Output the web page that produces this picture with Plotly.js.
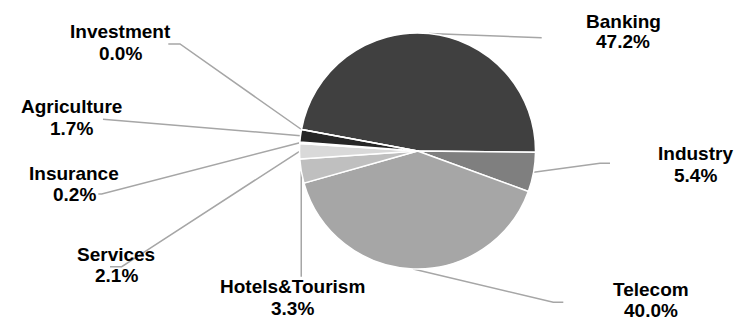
<!DOCTYPE html>
<html>
<head>
<meta charset="utf-8">
<script src="https://cdn.plot.ly/plotly-3.0.1.min.js"></script>
<style>html,body{margin:0;padding:0;background:#fff;}#chart{width:737px;height:320px;}</style>
</head>
<body>
<div id="chart"></div>
<script>
// ---- data ----
const categories = ['Banking', 'Industry', 'Telecom', 'Hotels&Tourism', 'Services', 'Insurance', 'Agriculture', 'Investment'];
const shares = [47.2, 5.4, 40.0, 3.3, 2.1, 0.2, 1.7, 0.0];
const sliceColors = ['#404040', '#7f7f7f', '#a6a6a6', '#bfbfbf', '#d9d9d9', '#f2f2f2', '#262626', '#000000'];

// ---- layout / style (pixels) ----
const W = 737, H = 320;
const CX = 417.5, CY = 151, R = 118;
const ROTATION = -79.5;
// label anchor: [x center, name line y, percent line y]
const labelPos = [
  [623, 21, 42],
  [695, 153.7, 175],
  [651, 289, 310],
  [292.5, 286.7, 308],
  [116, 254.5, 275.5],
  [74, 173.7, 194.7],
  [71, 106.7, 128],
  [120, 32, 53]
];
// leader line bend/end points (null x = same x as start)
const leaderPts = [
  [[541.7, 37.7]],
  [[600, 163.3], [610, 163.3]],
  [[553.3, 302.3], [563.3, 302.3]],
  [[null, 276.7]],
  [[121.7, 266.7], [110, 266.7]],
  [[101.7, 194], [98.3, 194]],
  [[103, 119.3]],
  [[180, 44], [168.3, 44]]
];

const px = x => x / W;
const py = y => 1 - y / H;

const total = shares.reduce((a, b) => a + b, 0);
let cum = 0;
const shapes = [];
const annotations = [];
categories.forEach((cat, i) => {
  const mid = ROTATION + (cum + shares[i] / 2) / total * 360;
  cum += shares[i];
  const a = mid * Math.PI / 180;
  const sx = CX + R * Math.sin(a), sy = CY - R * Math.cos(a);
  let path = 'M' + px(sx) + ',' + py(sy);
  leaderPts[i].forEach(p => {
    const x = p[0] === null ? sx : p[0];
    path += ' L' + px(x) + ',' + py(p[1]);
  });
  shapes.push({type: 'path', xref: 'paper', yref: 'paper', path: path,
    line: {color: '#a6a6a6', width: 1.5}, layer: 'below'});
  const lp = labelPos[i];
  const font = {family: 'Arial, "Liberation Sans", sans-serif', size: 19, color: '#000000', weight: 700};
  annotations.push({xref: 'paper', yref: 'paper', x: px(lp[0]), y: py(lp[1]), xanchor: 'center', yanchor: 'middle',
    text: cat, showarrow: false, font: font});
  annotations.push({xref: 'paper', yref: 'paper', x: px(lp[0]), y: py(lp[2]), xanchor: 'center', yanchor: 'middle',
    text: shares[i].toFixed(1) + '%', showarrow: false, font: font});
});

const trace = {
  type: 'pie',
  labels: categories,
  values: shares,
  sort: false,
  direction: 'clockwise',
  rotation: ROTATION,
  textinfo: 'none',
  hoverinfo: 'label+percent',
  marker: {colors: sliceColors, line: {color: '#ffffff', width: 1.5}},
  domain: {x: [px(CX - R), px(CX + R)], y: [py(CY + R), py(CY - R)]},
  showlegend: false
};

const layout = {
  width: W, height: H, autosize: false,
  margin: {l: 0, r: 0, t: 0, b: 0, pad: 0},
  paper_bgcolor: '#ffffff', plot_bgcolor: '#ffffff',
  showlegend: false,
  shapes: shapes,
  annotations: annotations
};

Plotly.newPlot('chart', [trace], layout, {displayModeBar: false, staticPlot: true});
</script>
</body>
</html>
